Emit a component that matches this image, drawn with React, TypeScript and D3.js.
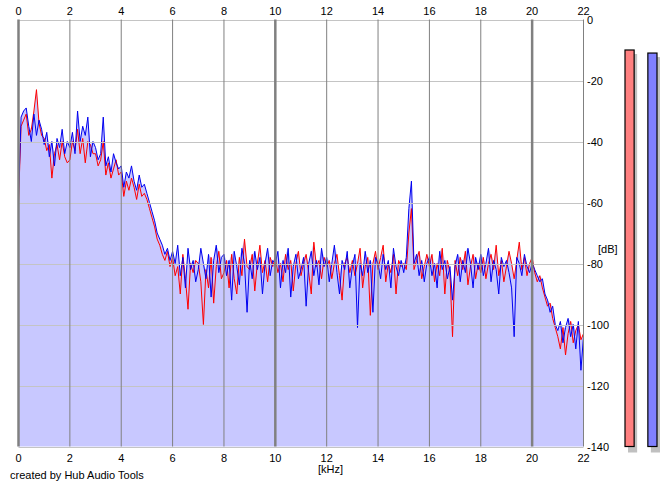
import React from "react";
import * as d3 from "d3";

const freqStepKHz = 0.1;
const xTicks = [0, 2, 4, 6, 8, 10, 12, 14, 16, 18, 20, 22];
const majorX = [0, 10, 20];
const yTicks = [0, -20, -40, -60, -80, -100, -120, -140];

const blue: number[] = [
  -58, -32, -30, -29, -35, -40, -31, -38, -33, -36,
  -41, -37, -45, -40, -48, -39, -42, -36, -44, -40,
  -42, -37, -44, -30, -40, -35, -38, -32, -45, -40,
  -42, -46, -44, -32, -48, -45, -50, -44, -47, -49,
  -48, -55, -50, -52, -48, -53, -56, -51, -55, -54,
  -57, -60, -63, -66, -70, -72, -74, -77, -75, -79,
  -76, -80, -74, -84, -78, -88, -75, -82, -79, -86,
  -82, -75, -80, -85, -77, -91, -79, -74, -83, -78,
  -77, -84, -79, -92, -76, -81, -87, -75, -80, -96,
  -79, -85, -76, -82, -78, -90, -80, -75, -84, -79,
  -80, -76, -88, -79, -83, -75, -91, -81, -77, -85,
  -82, -78, -94, -80, -76, -84, -79, -87, -75, -81,
  -78, -86, -80, -74, -83, -90, -79, -82, -76, -88,
  -81, -77, -101, -80, -84, -76, -83, -79, -96, -78,
  -80, -85, -77, -82, -79, -88, -75, -81, -84, -79,
  -83, -78, -62, -53, -80, -77, -84, -79, -86, -80,
  -78, -84, -80, -88, -76, -82, -79, -85, -81, -92,
  -81, -77, -86, -79, -83, -75, -80, -88, -78, -82,
  -77, -84, -80, -75, -86, -79, -82, -90, -78, -81,
  -79, -83, -88, -104, -78, -80, -84, -77, -81, -83,
  -80, -82, -84, -86, -85, -90, -92, -96, -94, -100,
  -102, -99, -106, -101, -98, -104, -100, -108, -99, -115,
  -104,
];

const red: number[] = [
  -60, -35, -33, -31, -38, -36, -30, -23, -34, -38,
  -39, -43, -41, -52, -44, -41, -46, -40, -45, -47,
  -46, -40, -43, -36, -44, -39, -47, -40, -41, -44,
  -44, -48, -46, -40, -51, -47, -52, -49, -46, -51,
  -50, -58, -53, -56, -52, -55, -59, -54, -58, -57,
  -59, -62, -65, -68, -72, -74, -77, -79, -76, -81,
  -78, -84, -81, -90, -77, -85, -95, -80, -83, -79,
  -80, -86, -100, -82, -88, -78, -93, -81, -76, -85,
  -83, -79, -88, -77, -85, -90, -78, -84, -72, -81,
  -82, -77, -89, -80, -74, -83, -79, -86, -78, -81,
  -78, -83, -80, -86, -77, -82, -79, -89, -80, -76,
  -84, -80, -77, -83, -90, -73, -81, -79, -85, -78,
  -81, -79, -85, -80, -77, -84, -92, -80, -78, -83,
  -79, -84, -80, -75, -88, -81, -78, -97, -80, -76,
  -82, -78, -74, -86, -80, -83, -77, -90, -79, -81,
  -80, -82, -70, -62, -82, -79, -76, -85, -81, -77,
  -81, -77, -86, -80, -84, -75, -90, -79, -83, -104,
  -79, -84, -78, -82, -76, -87, -81, -77, -85, -80,
  -83, -78, -85, -80, -77, -82, -74, -84, -79, -86,
  -81, -76, -80, -85, -79, -73, -82, -78, -84, -80,
  -78, -83, -86, -84, -88, -91, -94, -93, -98, -101,
  -104, -108, -101, -110, -103, -99, -106, -102, -100, -105,
  -103,
];

// level meters (dB)
const levelChannels = ["L", "R"];
const levelValues = [-10, -11];
const levelColors = ["#ff8080", "#8080ff"];

const W = 665;
const H = 487;
const left = 18.5;
const right = 583.5;
const top = 19.5;
const bottom = 446.5;
const font = "'Liberation Sans', Arial, sans-serif";

export default function App() {
  const x = d3.scaleLinear().domain([0, 22]).range([left, right]);
  const y = d3.scaleLinear().domain([0, -140]).range([top, bottom]);
  const fx = (i: number) => x(i * freqStepKHz);

  const line = d3
    .line<number>()
    .x((_, i) => fx(i))
    .y((d) => y(d));
  const maxVals = blue.map((b, i) => Math.max(b, red[i]));
  const area = d3
    .area<number>()
    .x((_, i) => fx(i))
    .y0(y(-140))
    .y1((d) => y(d));

  const meterY = d3.scaleLinear().domain([0, -140]).range([top, bottom]);
  const meterX = d3.scaleBand().domain(levelChannels).range([625, 657]).paddingInner(0.6);

  return (
    <svg
      width={W}
      height={H}
      style={{ position: "absolute", left: 0, top: 0, background: "#fff" }}
      fontFamily={font}
      fontSize={11}
    >
      <rect x={0} y={0} width={W} height={H} fill="#fff" />
      <path d={area(maxVals) ?? ""} fill="#c8c8ff" />
      <path d={line(red) ?? ""} fill="none" stroke="#ff0000" strokeWidth={1} />
      <path d={line(blue) ?? ""} fill="none" stroke="#0000f0" strokeWidth={1} />

      {yTicks.map((t) => (
        <line key={"h" + t} x1={left} x2={right} y1={Math.round(y(t)) + 0.5} y2={Math.round(y(t)) + 0.5} stroke="#c4c4c4" strokeWidth={1} />
      ))}
      {xTicks.map((t) => (
        <line
          key={"v" + t}
          x1={x(t)}
          x2={x(t)}
          y1={top}
          y2={bottom}
          stroke="#808080"
          strokeWidth={majorX.includes(t) ? 2.5 : 1}
        />
      ))}

      {xTicks.map((t) => (
        <text key={"tt" + t} x={x(t)} y={15} textAnchor="middle" fill="#000">
          {t}
        </text>
      ))}
      {xTicks.map((t) => (
        <text key={"bt" + t} x={x(t)} y={462} textAnchor="middle" fill="#000">
          {t}
        </text>
      ))}
      {yTicks.map((t) => (
        <text key={"yt" + t} x={587} y={y(t) + 4} textAnchor="start" fill="#000">
          {t}
        </text>
      ))}
      <text x={598} y={253} fill="#000">[dB]</text>
      <text x={318} y={473} fill="#000">[kHz]</text>
      <text x={10} y={479} fill="#000">created by Hub Audio Tools</text>

      {levelChannels.map((c, i) => {
        const bx = meterX(c) ?? 0;
        const bw = meterX.bandwidth();
        const ty = meterY(levelValues[i]);
        return (
          <g key={c}>
            <rect x={bx + 3} y={ty + 4} width={bw} height={bottom - ty + 2} fill="#c0c0c0" />
            <rect x={bx} y={ty} width={bw} height={bottom - ty} fill={levelColors[i]} stroke="#000" strokeWidth={1.2} />
          </g>
        );
      })}
    </svg>
  );
}
